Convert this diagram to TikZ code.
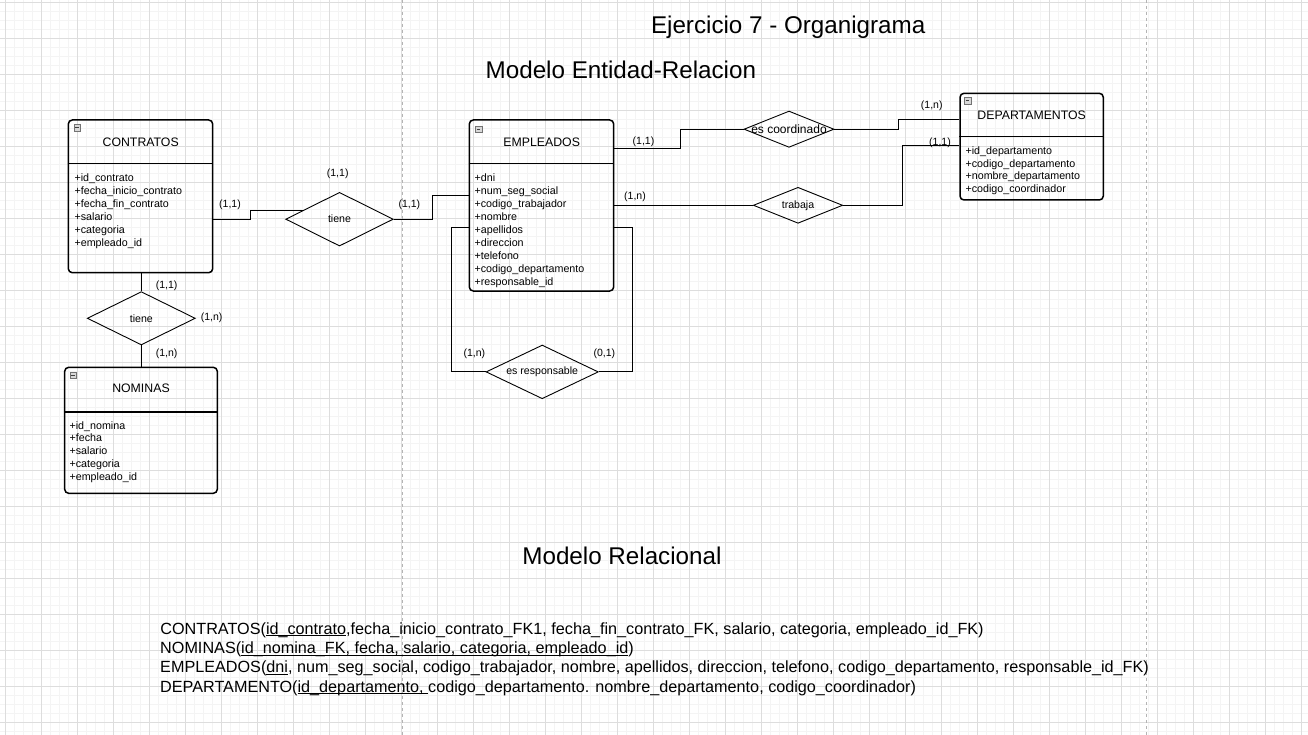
\documentclass[tikz,border=0pt]{standalone}
\usepackage{fontspec}
\setmainfont{Liberation Sans}
\usetikzlibrary{shapes.geometric,calc}
\definecolor{gridmaj}{HTML}{DDDDDD}
\definecolor{gridmin}{HTML}{F4F4F4}
\definecolor{pagebrk}{HTML}{B4B4B4}
\newcommand{\myul}[1]{\setbox0\hbox{#1}\rlap{\rule[-1.7pt]{\wd0}{0.75pt}}#1}
\newcommand{\ztext}[1]{\makebox[0pt][c]{#1}}
\tikzset{
  entity/.style={rectangle, draw, line width=1.5pt, rounded corners=4pt, inner sep=0pt},
  sepline/.style={line width=1.3pt},
  etitle/.style={inner sep=0pt, font=\fontsize{12.3}{14}\selectfont},
  attr/.style={inner sep=0pt, anchor=base west, font=\fontsize{10.7}{13}\selectfont},
  rel/.style={diamond, draw, line width=0.9pt, inner sep=0pt, aspect=2, font=\fontsize{10.6}{12}\selectfont},
  conn/.style={line width=0.9pt},
  card/.style={inner sep=0pt, font=\fontsize{10.5}{12}\selectfont},
  bigtitle/.style={inner sep=0pt, anchor=base west, font=\fontsize{24.2}{28}\selectfont},
  reltext/.style={inner sep=0pt, anchor=base west, font=\fontsize{16.2}{19}\selectfont},
  icon/.style={rectangle, draw=black!55, fill=black!15, line width=0.5pt, minimum size=6.5pt, inner sep=0pt,
    path picture={\draw[line width=0.9pt, black!75] ($(path picture bounding box.west)+(1.4,0)$) -- ($(path picture bounding box.east)+(-1.4,0)$);}},
  gmin/.style={draw=gridmin, line width=0.8pt},
  gmaj/.style={draw=gridmaj, line width=0.9pt},
  pbreak/.style={draw=pagebrk, line width=0.8pt, dash pattern=on 3pt off 3pt},
}
\begin{document}
\begin{tikzpicture}[x=1pt,y=-1pt]
\useasboundingbox (0,0) rectangle (1308,735);
\fill[white] (0,0) rectangle (1308,735);
% grid
\foreach \i in {0,...,144} { \draw[gmin] ({5+9*\i},0) -- ({5+9*\i},735); }
\foreach \i in {0,...,81} { \draw[gmin] (0,{2.3+9*\i}) -- (1308,{2.3+9*\i}); }
\foreach \i in {0,...,36} { \draw[gmaj] ({5+36*\i},0) -- ({5+36*\i},735); }
\foreach \i in {0,...,20} { \draw[gmaj] (0,{2.3+36*\i}) -- (1308,{2.3+36*\i}); }
% page breaks
\draw[pbreak] (402,0) -- (402,735);
\draw[pbreak] (1146,0) -- (1146,735);

% titles
\node[bigtitle] (tEj) at (650.8,34) {Ejercicio 7 - Organigrama};
\node[bigtitle] (tER) at (485.5,78.3) {Modelo Entidad-Relacion};
\node[bigtitle] (tRel) at (522.2,564) {Modelo Relacional};

% entities
\node[entity, minimum width=144.4pt, minimum height=152.7pt] (cont) at (140.5,196.35) {};
\node[entity, minimum width=144.4pt, minimum height=171pt] (emp) at (541.5,205.5) {};
\node[entity, minimum width=152.6pt, minimum height=126pt] (nom) at (141,430.3) {};
\node[entity, minimum width=143.3pt, minimum height=106.7pt] (dep) at (1031.65,146.65) {};

\draw[sepline] ($(cont.north west)+(0,44.3)$) -- ($(cont.north east)+(0,44.3)$);
\draw[sepline] ($(emp.north west)+(0,44.3)$) -- ($(emp.north east)+(0,44.3)$);
\draw[sepline] ($(nom.north west)+(0,45.4)$) -- ($(nom.north east)+(0,45.4)$);
\draw[sepline] ($(dep.north west)+(0,44)$) -- ($(dep.north east)+(0,44)$);

\node[icon] (contI) at (77,127.7) {};
\node[icon] (empI) at (478.6,129.2) {};
\node[icon] (nomI) at (73,375.2) {};
\node[icon] (depI) at (967.5,100.7) {};

\node[etitle] (contT) at (140.7,141.9) {CONTRATOS};
\node[etitle] (empT) at (541.7,141.9) {EMPLEADOS};
\node[etitle] (nomT) at (141,388.6) {NOMINAS};
\node[etitle] (depT) at (1031.7,115.2) {DEPARTAMENTOS};

\foreach \t [count=\k] in {+id\_contrato,+fecha\_inicio\_contrato,+fecha\_fin\_contrato,+salario,+categoria,+empleado\_id}
  { \node[attr] (ca\k) at (74.4,{181.1+13*(\k-1)}) {\t}; }
\foreach \t [count=\k] in {+dni,+num\_seg\_social,+codigo\_trabajador,+nombre,+apellidos,+direccion,+telefono,+codigo\_departamento,+responsable\_id}
  { \node[attr] (ea\k) at (474.4,{181.5+13*(\k-1)}) {\t}; }
\foreach \t [count=\k] in {+id\_nomina,+fecha,+salario,+categoria,+empleado\_id}
  { \node[attr] (na\k) at (69.4,{429.1+12.85*(\k-1)}) {\t}; }
\foreach \t [count=\k] in {+id\_departamento,+codigo\_departamento,+nombre\_departamento,+codigo\_coordinador}
  { \node[attr] (da\k) at (965.4,{154.5+12.7*(\k-1)}) {\t}; }

% relationships
\node[rel, minimum width=107.6pt, minimum height=53.7pt] (rt1) at (339.5,219.2) {\ztext{tiene}};
\node[rel, minimum width=108pt, minimum height=53.3pt] (rt2) at (141.3,318.3) {\ztext{tiene}};
\node[rel, minimum width=112.3pt, minimum height=53.7pt] (resp) at (542.2,371.9) {\ztext{es responsable}};
\node[rel, minimum width=90pt, minimum height=36.3pt, font=\fontsize{12}{14}\selectfont] (coord) at (789,129.2) {\ztext{es coordinado}};
\node[rel, minimum width=89.4pt, minimum height=36pt] (trab) at (798,205.3) {\ztext{trabaja}};

% connectors
\draw[conn] (cont.east |- rt1.center) -- ++(36.6,0) |- ($(rt1.west)!0.333!(rt1.north)$);
\draw[conn] (rt1.east) -- ++(38.4,0) |- ($(emp.north west)+(0,76)$);
\draw[conn] (rt2.north |- cont.south) -- (rt2.north);
\draw[conn] (rt2.south) -- (rt2.south |- nom.north);
\draw[conn] ($(emp.north west)+(0,108.3)$) -- ++(-17.6,0) |- (resp.west);
\draw[conn] ($(emp.north east)+(0,108.3)$) -- ++(18,0) |- (resp.east);
\draw[conn] ($(emp.north east)+(0,29)$) -- ++(65.6,0) |- (coord.west);
\draw[conn] (coord.east) -- ++(63.7,0) |- ($(dep.north west)+(0,26.7)$);
\draw[conn] (trab.west -| emp.east) -- (trab.west);
\draw[conn] (trab.east) -- ++(59.3,0) |- ($(dep.north west)+(0,53.4)$);

% cardinalities
\node[card] (c1) at (337.7,173.3) {(1,1)};
\node[card] (c2) at (230,204.7) {(1,1)};
\node[card] (c3) at (409.3,204.7) {(1,1)};
\node[card] (c4) at (166.7,285.7) {(1,1)};
\node[card] (c5) at (211.7,317.7) {(1,n)};
\node[card] (c6) at (166.7,353.7) {(1,n)};
\node[card] (c7) at (474.3,353.7) {(1,n)};
\node[card] (c8) at (604.3,353.7) {(0,1)};
\node[card] (c9) at (643.5,141.8) {(1,1)};
\node[card] (c10) at (635,196.7) {(1,n)};
\node[card] (c11) at (931.7,106) {(1,n)};
\node[card] (c12) at (940,142.3) {(1,1)};

% relational model
\node[reltext] (r1) at (160.2,634.3) {CONTRATOS(\myul{id\_contrato},fecha\_inicio\_contrato\_FK1, fecha\_fin\_contrato\_FK, salario, categoria, empleado\_id\_FK)};
\node[reltext] (r2) at (160,653.6) {NOMINAS(\myul{id\_nomina\_FK, fecha, salario, categoria, empleado\_id})};
\node[reltext] (r3) at (160,672.9) {EMPLEADOS(\myul{dni}, num\_seg\_social, codigo\_trabajador, nombre, apellidos, direccion, telefono, codigo\_departamento, responsable\_id\_FK)};
\node[reltext] (r4) at (160,692.2) {DEPARTAMENTO(\myul{id\_departamento, }codigo\_departamento. nombre\_departamento, codigo\_coordinador)};
\end{tikzpicture}
\end{document}
